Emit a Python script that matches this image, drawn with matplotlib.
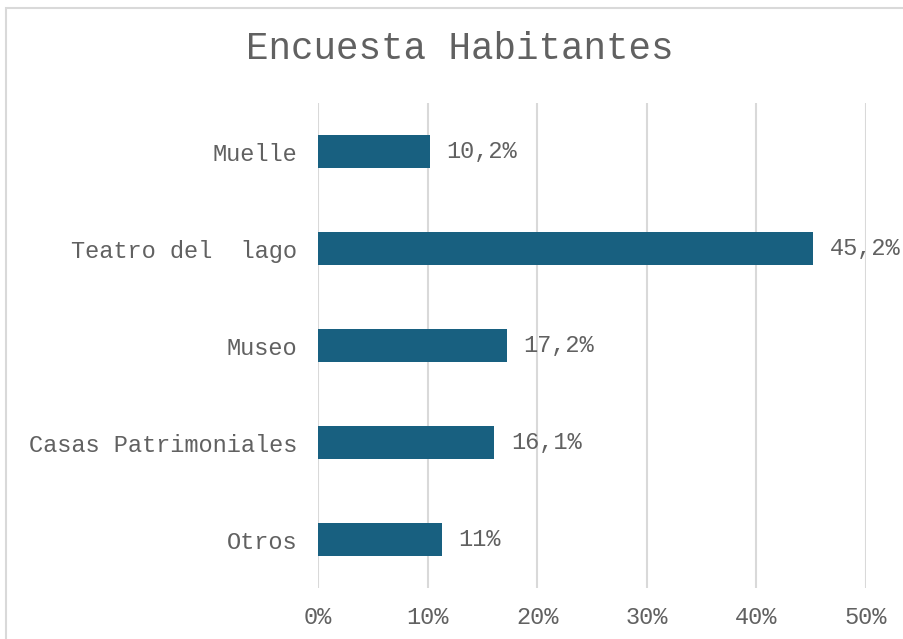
import matplotlib.pyplot as plt
from matplotlib.patches import Rectangle

# ===== Data =====
categories = ["Muelle", "Teatro del  lago", "Museo", "Casas Patrimoniales", "Otros"]
values = [10.2, 45.2, 17.2, 16.1, 11.3]
value_labels = ["10,2%", "45,2%", "17,2%", "16,1%", "11%"]
x_ticks = [0, 10, 20, 30, 40, 50]
x_tick_labels = ["0%", "10%", "20%", "30%", "40%", "50%"]

BAR_COLOR = "#186080"
TEXT_COLOR = "#616161"
GRID_COLOR = "#d9d9d9"

plt.rcParams['font.family'] = ['Liberation Mono', 'DejaVu Sans']

fig = plt.figure(figsize=(9.04, 6.39), dpi=100)
ax = fig.add_axes([0.3518, 0.0798, 0.958 - 0.3518, 0.8388 - 0.0798])

# outer chart border (cropped on right / bottom in the reference)
fig.patches.append(Rectangle((6 / 904, -0.1), 1.2, 1 - 8 / 639 + 0.1,
                             transform=fig.transFigure, fill=False,
                             edgecolor=GRID_COLOR, linewidth=1.5))

y = list(range(len(categories)))
bars = ax.barh(y, values, height=0.35, color=BAR_COLOR, zorder=3)

for b, lab in zip(bars, value_labels):
    ax.annotate(lab, (b.get_width(), b.get_y() + b.get_height() / 2),
                xytext=(12, 0), textcoords="offset points",
                va="center", ha="left", fontsize=17, color=TEXT_COLOR)

ax.set_xlim(0, 50)
ax.set_ylim(len(categories) - 0.5, -0.5)
ax.set_yticks(y)
ax.set_yticklabels(categories)
ax.set_xticks(x_ticks)
ax.set_xticklabels(x_tick_labels)
ax.tick_params(axis="y", length=0, pad=15, labelsize=17, labelcolor=TEXT_COLOR)
ax.tick_params(axis="x", length=0, pad=13, labelsize=17, labelcolor=TEXT_COLOR)

ax.grid(axis="x", color=GRID_COLOR, linewidth=1.5, zorder=0)
ax.set_axisbelow(True)
for s in ax.spines.values():
    s.set_visible(False)

fig.text(0.5 * (248 + 672) / 904, 0.923, "Encuesta Habitantes",
         ha="center", va="center", fontsize=27, color=TEXT_COLOR)

fig.savefig("out.png", dpi=100)
